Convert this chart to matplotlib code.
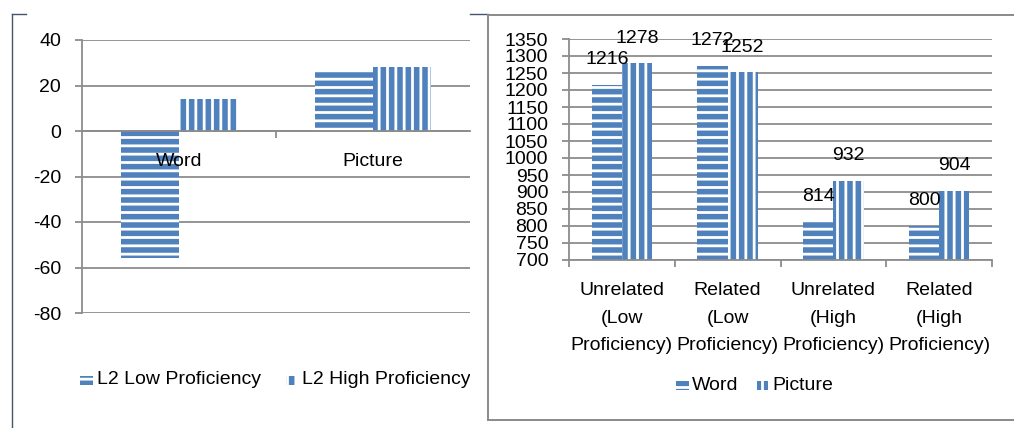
import matplotlib
matplotlib.use("Agg")
import matplotlib.pyplot as plt
from matplotlib.patches import Rectangle
from matplotlib.lines import Line2D
import numpy as np

# ---- data ----
left_categories = ["Word", "Picture"]
left_series_names = ["L2 Low Proficiency", "L2 High Proficiency"]
left_low = [-56, 26]
left_high = [14, 28]
left_yticks = [40, 20, 0, -20, -40, -60, -80]

right_categories = ["Unrelated\n(Low\nProficiency)", "Related\n(Low\nProficiency)",
                    "Unrelated\n(High\nProficiency)", "Related\n(High\nProficiency)"]
right_series_names = ["Word", "Picture"]
right_word = [1216, 1272, 814, 800]
right_picture = [1278, 1252, 932, 904]
right_yticks = list(range(700, 1351, 50))

BLUE = "#4F81BD"
GRID = "#8C8C8C"
FS = 14

plt.rcParams['font.family'] = ["Liberation Sans", "DejaVu Sans"]
plt.rcParams['axes.unicode_minus'] = False
plt.rcParams['hatch.color'] = 'white'
plt.rcParams['hatch.linewidth'] = 2.0

W, H = 1014, 428
fig = plt.figure(figsize=(W / 100, H / 100), dpi=100)


def fx(px):
    return px / W


def fy(py):
    return 1 - py / H


def style_axes(ax):
    for s in ["top", "right"]:
        ax.spines[s].set_visible(False)
    ax.spines["left"].set_color(GRID)
    ax.spines["left"].set_linewidth(1.3)
    ax.spines["bottom"].set_color(GRID)
    ax.spines["bottom"].set_linewidth(1.3)
    ax.yaxis.grid(True, color=GRID, linewidth=1.3)
    ax.set_axisbelow(True)
    ax.tick_params(axis="y", length=5, width=1.3, color=GRID, pad=10, labelsize=FS)


# ---- left chart ----
axL = fig.add_axes([fx(82), fy(313), fx(470) - fx(82), fy(40) - fy(313)])
style_axes(axL)
xl = np.arange(len(left_categories))
bw = 0.30
axL.bar(xl - bw / 2, left_low, bw, color=BLUE, hatch="--", linewidth=0)
axL.bar(xl + bw / 2, left_high, bw, color=BLUE, hatch="||", linewidth=0)
axL.set_xlim(-0.5, len(left_categories) - 0.5)
axL.set_ylim(min(left_yticks), max(left_yticks))
axL.set_yticks(left_yticks)
axL.spines["bottom"].set_position(("data", 0))
axL.set_xticks([])
axL.set_xticks([0.5], minor=True)
axL.tick_params(axis="x", which="minor", length=5, width=1.3, color=GRID)
for i, c in enumerate(left_categories):
    axL.annotate(c, (xl[i], 0), xytext=(0, -15.5), textcoords="offset points",
                 ha="center", va="top", fontsize=FS, zorder=10)

# ---- right chart ----
axR = fig.add_axes([fx(569), fy(260), fx(992) - fx(569), fy(39) - fy(260)])
style_axes(axR)
xr = np.arange(len(right_categories))
bw2 = 0.285
b1 = axR.bar(xr - bw2 / 2, right_word, bw2, color=BLUE, hatch="--", linewidth=0)
b2 = axR.bar(xr + bw2 / 2, right_picture, bw2, color=BLUE, hatch="||", linewidth=0)
axR.set_xlim(-0.5, len(right_categories) - 0.5)
axR.set_ylim(min(right_yticks), max(right_yticks))
axR.set_yticks(right_yticks)
axR.set_xticks(xr)
axR.set_xticklabels(right_categories, fontsize=FS, linespacing=1.8)
axR.tick_params(axis="x", which="major", length=0, pad=16)
axR.set_xticks(np.arange(-0.5, len(right_categories)), minor=True)
axR.tick_params(axis="x", which="minor", length=5, width=1.3, color=GRID)
for bars, vals in ((b1, right_word), (b2, right_picture)):
    for rect, v in zip(bars, vals):
        axR.annotate(str(v), (rect.get_x() + rect.get_width() / 2, v),
                     xytext=(0, 12), textcoords="offset points",
                     ha="center", va="bottom", fontsize=FS, annotation_clip=False)

# ---- legends (drawn manually in figure coords) ----
def legend_item(x_mark, x_text, y, hatch, label, w=13, h=9, clip_right=None):
    r = Rectangle((fx(x_mark), fy(y + h / 2)), fx(w), (h / H), transform=fig.transFigure,
                  facecolor=BLUE, hatch=hatch, linewidth=0)
    fig.add_artist(r)
    t = fig.text(fx(x_text), fy(y), label, fontsize=FS, ha="left", va="center")
    if clip_right is not None:
        cp = Rectangle((0, 0), fx(clip_right), 1, transform=fig.transFigure,
                       facecolor="none", edgecolor="none")
        fig.add_artist(cp)
        cp.set_visible(False)
        t.set_clip_path(cp)
        t.set_clip_on(True)
    return t

legend_item(80, 97, 380, "--", left_series_names[0])
legend_item(286, 302, 380, "||", left_series_names[1], w=10, clip_right=470)
legend_item(676, 692, 385, "--", right_series_names[0])
legend_item(757, 772, 385, "||", right_series_names[1], w=11)

# ---- frames ----
NAVY = "#44546A"
fig.add_artist(Line2D([fx(12), fx(12)], [fy(14), fy(428)], color=NAVY, lw=1.0, transform=fig.transFigure))
fig.add_artist(Line2D([fx(12), fx(26)], [fy(14), fy(14)], color=NAVY, lw=1.0, transform=fig.transFigure))
fig.add_artist(Line2D([fx(470), fx(488)], [fy(14), fy(14)], color=NAVY, lw=1.0, transform=fig.transFigure))
FR = "#8A8A8A"
fig.add_artist(Line2D([fx(488), fx(488)], [fy(15), fy(420)], color=FR, lw=1.4, transform=fig.transFigure))
fig.add_artist(Line2D([fx(488), fx(1014)], [fy(15), fy(15)], color=FR, lw=1.4, transform=fig.transFigure))
fig.add_artist(Line2D([fx(488), fx(1014)], [fy(420), fy(420)], color=FR, lw=1.4, transform=fig.transFigure))

fig.savefig("out.png", dpi=100)
